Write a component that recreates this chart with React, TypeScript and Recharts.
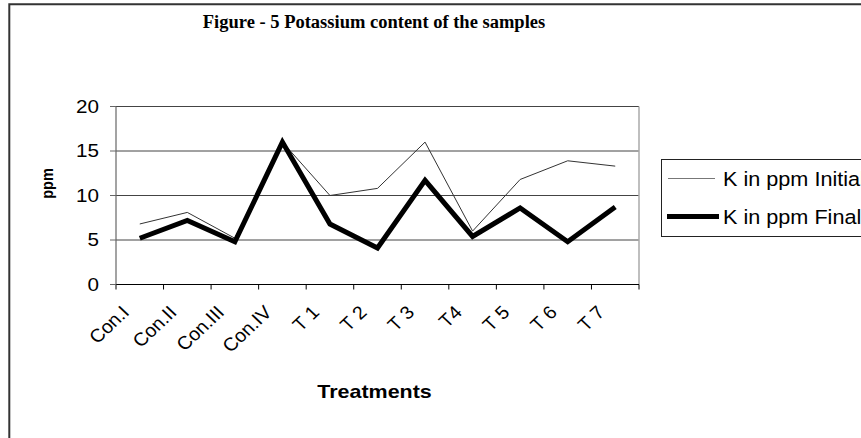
import React from 'react';
import { LineChart, Line, XAxis, YAxis, CartesianGrid, Legend, ReferenceLine, Label } from 'recharts';

const categories = ['Con.I', 'Con.II', 'Con.III', 'Con.IV', 'T 1', 'T 2', 'T 3', 'T4', 'T 5', 'T 6', 'T 7'];
const initialK = [6.8, 8.1, 5.2, 16.0, 10.0, 10.8, 16.0, 6.0, 11.8, 13.9, 13.3];
const finalK = [5.2, 7.2, 4.8, 16.0, 6.8, 4.1, 11.7, 5.4, 8.6, 4.8, 8.7];
const yTicks = [0, 5, 10, 15, 20];
const seriesNames = ['K in ppm Initial', 'K in ppm Final'];
const titleText = 'Figure - 5 Potassium content of the samples';
const xTitle = 'Treatments';
const yTitle = 'ppm';

const data = categories.map((c, i) => ({ pos: i + 0.5, name: c, initial: initialK[i], final: finalK[i] }));
const boundaryTicks = [...categories.map((_, i) => i), categories.length];
const centerTicks = categories.map((_, i) => i + 0.5);

const SANS = '"Liberation Sans", Arial, sans-serif';
const SERIF = '"Liberation Serif", "Times New Roman", serif';

const YTick = (props: any) => {
  const { x, y, payload } = props;
  return (
    <text transform={`translate(${x},${y}) scale(1.18,1)`} textAnchor="end" dy="0.36em" fontSize={17.5} fontFamily={SANS} fill="#000">
      {payload.value}
    </text>
  );
};

const XLabelTick = (props: any) => {
  const { x, y, payload } = props;
  const label = categories[Math.floor(payload.value)] ?? '';
  return (
    <text transform={`translate(${x - 9.5},${y + 23}) scale(1.06,1) rotate(-45)`} textAnchor="end" fontSize={18.5} fontFamily={SANS} fill="#000">
      {label}
    </text>
  );
};

const EmptyTick = () => <g />;

const legendStyles = [
  { stroke: '#777', width: 1.2, x1: 7, x2: 54 },
  { stroke: '#000', width: 5, x1: 6, x2: 58 },
];

const renderLegend = (props: any) => {
  const payload = [...(props.payload || [])].sort(
    (a: any, b: any) => seriesNames.indexOf(a.value) - seriesNames.indexOf(b.value)
  );
  return (
    <svg width={240} height={79} style={{ display: 'block' }}>
      <rect x={0.5} y={0.5} width={300} height={77} fill="#fff" stroke="#222" strokeWidth={1} />
      {payload.map((entry: any, i: number) => {
        const idx = seriesNames.indexOf(entry.value);
        const s = legendStyles[idx >= 0 ? idx : i] || legendStyles[0];
        const cy = 19.5 + i * 38;
        return (
          <g key={i}>
            <line x1={s.x1} x2={s.x2} y1={cy} y2={cy} stroke={s.stroke} strokeWidth={s.width} />
            <text transform={`translate(62,${cy + 7.3}) scale(1.11,1)`} fontSize={19.5} fontFamily={SANS} fill="#000">
              {entry.value}
            </text>
          </g>
        );
      })}
    </svg>
  );
};

export default function App() {
  return (
    <div style={{ position: 'absolute', left: 0, top: 0, width: 861, height: 438, overflow: 'hidden', background: '#fff' }}>
      <LineChart
        width={861}
        height={438}
        data={data}
        margin={{ top: 106.5, right: 222, bottom: 28, left: 0 }}
      >
        <CartesianGrid xAxisId="a_marks" vertical={false} stroke="#444" strokeWidth={1} />
        <XAxis
          xAxisId="a_marks"
          dataKey="pos"
          type="number"
          domain={[0, categories.length]}
          ticks={boundaryTicks}
          interval={0}
          height={6}
          tickSize={5}
          tick={EmptyTick}
          stroke="#000"
          axisLine={{ stroke: '#000', strokeWidth: 1.2 }}
          tickLine={{ stroke: '#000' }}
        />
        <XAxis
          xAxisId="b_labels"
          dataKey="pos"
          type="number"
          domain={[0, categories.length]}
          ticks={centerTicks}
          interval={0}
          height={119.5}
          tickSize={0}
          tickMargin={0}
          axisLine={false}
          tickLine={false}
          tick={XLabelTick}
        >
          <Label
            content={(p: any) => {
              const vb = p.viewBox || { x: 0, y: 0, width: 0, height: 0 };
              return (
                <text transform={`translate(${vb.x + vb.width / 2 - 3},${vb.y + 107}) scale(1.13,1)`} textAnchor="middle" fontSize={19} fontWeight="bold" fontFamily={SANS} fill="#000">
                  {xTitle}
                </text>
              );
            }}
          />
        </XAxis>
        <YAxis
          type="number"
          domain={[0, 20]}
          ticks={yTicks}
          interval={0}
          width={116}
          tickSize={6}
          tickMargin={11}
          tick={YTick}
          axisLine={{ stroke: '#666', strokeWidth: 1.2 }}
          tickLine={{ stroke: '#666' }}
        >
          <Label
            content={(p: any) => {
              const vb = p.viewBox || { x: 0, y: 0, width: 0, height: 0 };
              return (
                <text transform={`translate(${vb.x + 52.5},${vb.y + vb.height / 2 - 12}) scale(1.2,1) rotate(-90)`} textAnchor="middle" fontSize={14.5} fontWeight="bold" fontFamily={SANS} fill="#000">
                  {yTitle}
                </text>
              );
            }}
          />
        </YAxis>
        <ReferenceLine xAxisId="a_marks" x={categories.length} stroke="#aaa" strokeWidth={1.5} />
        <Legend
          layout="vertical"
          align="center"
          verticalAlign="middle"
          content={renderLegend}
          wrapperStyle={{ left: 661, top: 158.5, width: 240, height: 79 }}
        />
        <Line
          xAxisId="a_marks"
          type="linear"
          dataKey="initial"
          name={seriesNames[0]}
          stroke="#333"
          strokeWidth={1}
          dot={false}
          activeDot={false}
          isAnimationActive={false}
        />
        <Line
          xAxisId="a_marks"
          type="linear"
          dataKey="final"
          name={seriesNames[1]}
          stroke="#000"
          strokeWidth={5}
          strokeLinejoin="miter"
          strokeLinecap="butt"
          dot={false}
          activeDot={false}
          isAnimationActive={false}
        />
      </LineChart>
      <svg width={861} height={438} style={{ position: 'absolute', left: 0, top: 0, pointerEvents: 'none' }}>
        <path d="M9.3,440 V4.3 H870" fill="none" stroke="#333" strokeWidth={2} />
        <text x={374} y={28} textAnchor="middle" fontSize={18.5} fontWeight="bold" fontFamily={SERIF} fill="#000">
          {titleText}
        </text>
      </svg>
    </div>
  );
}
